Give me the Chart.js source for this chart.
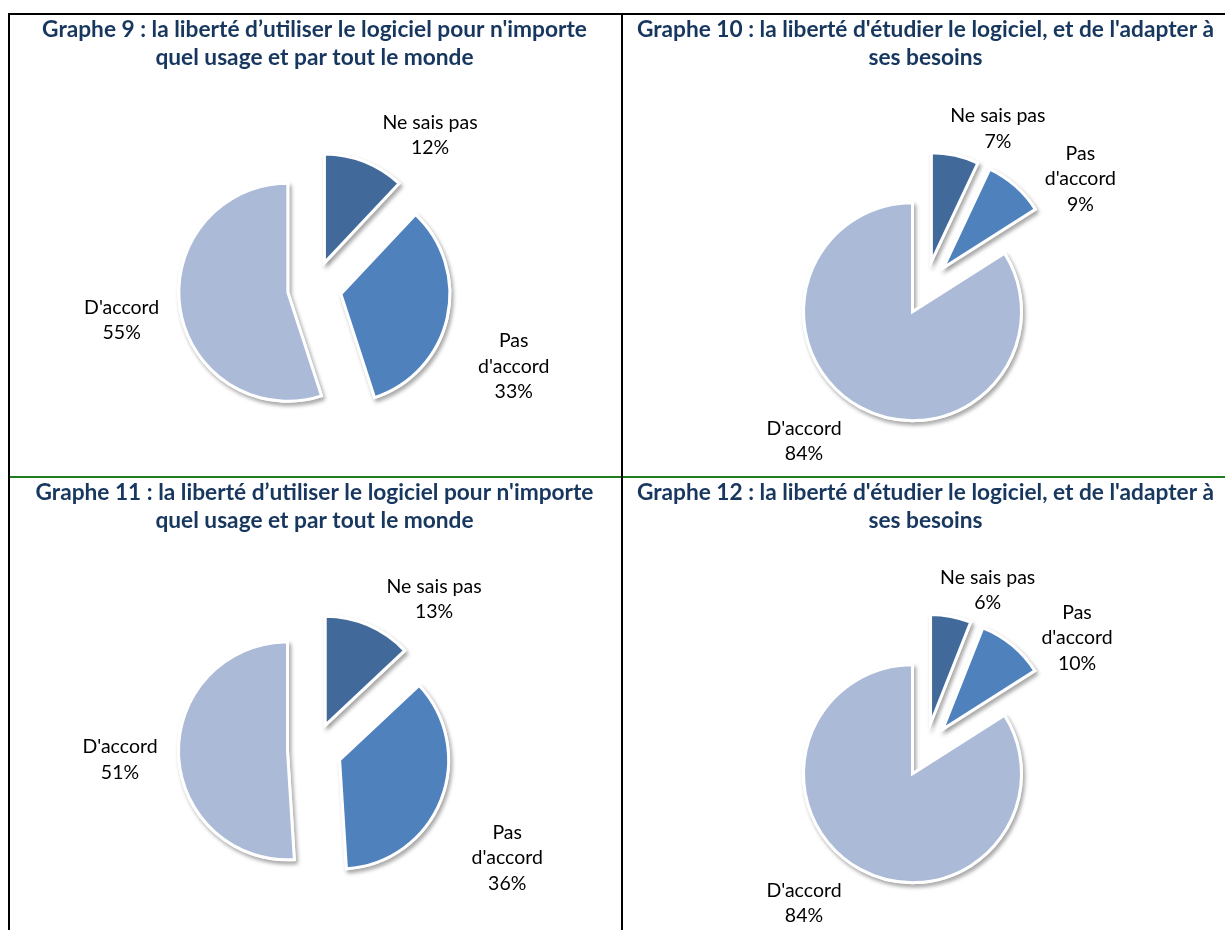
<!DOCTYPE html>
<html>
<head>
<meta charset="utf-8">
<script src="https://cdn.jsdelivr.net/npm/chart.js@4.4.1/dist/chart.umd.min.js"></script>
<style>
  html, body { margin: 0; padding: 0; background: #fff; overflow: hidden; }
  body { width: 1225px; height: 930px; position: relative; }
  .rule { position: absolute; background: #000; }
  canvas { position: absolute; }
</style>
</head>
<body>
<div class="rule" style="left:10px;top:476px;width:1215px;height:2px;background:#1f7f1f"></div>
<div class="rule" style="left:8px;top:13px;width:1217px;height:2px"></div>
<div class="rule" style="left:8px;top:13px;width:2px;height:917px"></div>
<div class="rule" style="left:621px;top:13px;width:2px;height:917px"></div>

<canvas id="g9" width="609" height="461" style="left:10px;top:15px"></canvas>
<canvas id="g10" width="605" height="461" style="left:623px;top:15px"></canvas>
<canvas id="g11" width="609" height="459" style="left:10px;top:478px"></canvas>
<canvas id="g12" width="605" height="459" style="left:623px;top:478px"></canvas>

<script>
// categories (multi-line where the original label wraps)
const categories = ['Ne sais pas', ['Pas', "d'accord"], "D'accord"];

// percentages per graph, same order as categories
const graph9 = [12, 33, 55];
const graph10 = [7, 9, 84];
const graph11 = [13, 36, 51];
const graph12 = [6, 10, 84];

const title9 = ['Graphe 9 : la liberté d’utiliser le logiciel pour n\'importe', 'quel usage et par tout le monde'];
const title10 = ['Graphe 10 : la liberté d\'étudier le logiciel, et de l\'adapter à', 'ses besoins'];
const title11 = ['Graphe 11 : la liberté d’utiliser le logiciel pour n\'importe', 'quel usage et par tout le monde'];
const title12 = ['Graphe 12 : la liberté d\'étudier le logiciel, et de l\'adapter à', 'ses besoins'];

const sliceColors = ['#41699A', '#4F81BD', '#AABAD7'];

const explode = 27;
const labelFont = '19.5px Lato';
const labelLine = 25.5;

function clamp(v) {
  return Math.max(-1, Math.min(1, v));
}

// every slice pulled out along its mid angle, with a soft drop shadow,
// and Excel-like "outside end" labels
const explodedPie = {
  id: 'explodedPie',
  beforeDatasetDraw(chart, args) {
    const ctx = chart.ctx;
    const arcs = args.meta.data;
    [true, false].forEach(function(withShadow) {
      arcs.forEach(function(arc) {
        const mid = (arc.startAngle + arc.endAngle) / 2;
        ctx.save();
        ctx.translate(Math.cos(mid) * explode, Math.sin(mid) * explode);
        if (withShadow) {
          ctx.shadowColor = 'rgba(0,0,0,0.3)';
          ctx.shadowBlur = 4;
          ctx.shadowOffsetX = 2;
          ctx.shadowOffsetY = 3;
        }
        arc.draw(ctx);
        ctx.restore();
      });
    });
    return false;
  },
  afterDatasetsDraw(chart) {
    const ctx = chart.ctx;
    const meta = chart.getDatasetMeta(0);
    const values = chart.data.datasets[0].data;
    ctx.save();
    ctx.font = labelFont;
    ctx.fillStyle = '#000';
    ctx.textAlign = 'center';
    ctx.textBaseline = 'middle';
    meta.data.forEach(function(arc, i) {
      const lines = [].concat(chart.data.labels[i], values[i] + '%');
      const w = Math.max.apply(null, lines.map(function(l) { return ctx.measureText(l).width; }));
      const h = lines.length * labelLine;
      const mid = (arc.startAngle + arc.endAngle) / 2;
      const ux = Math.cos(mid), uy = Math.sin(mid);
      const r = explode + arc.outerRadius + 5;
      const px = arc.x + ux * r;
      const py = arc.y + uy * r;
      let gap = 16, dy = 4;
      if (lines.length > 2) { gap = 26; dy = 35; }
      const cx = px + clamp(ux * 3) * (w / 2 + gap);
      const cy = py + clamp(uy * 1.5) * h / 2 + dy;
      lines.forEach(function(l, k) {
        ctx.fillText(l, cx, cy + (k - (lines.length - 1) / 2) * labelLine);
      });
    });
    ctx.restore();
  }
};

function makePie(id, title, values) {
  return new Chart(document.getElementById(id), {
    type: 'pie',
    data: {
      labels: categories,
      datasets: [{
        data: values,
        backgroundColor: sliceColors,
        borderColor: '#fff',
        borderWidth: 3,
        borderJoinStyle: 'miter'
      }]
    },
    options: {
      responsive: false,
      animation: false,
      radius: 109,
      layout: { padding: 0 },
      plugins: {
        legend: { display: false },
        tooltip: { enabled: false },
        title: {
          display: true,
          text: title,
          color: '#17375E',
          font: { family: 'Lato', size: 22.7, weight: 'bold', lineHeight: '28px' },
          padding: { top: 1, bottom: 28 }
        }
      }
    },
    plugins: [explodedPie]
  });
}

makePie('g9', title9, graph9);
makePie('g10', title10, graph10);
makePie('g11', title11, graph11);
makePie('g12', title12, graph12);
</script>
</body>
</html>
